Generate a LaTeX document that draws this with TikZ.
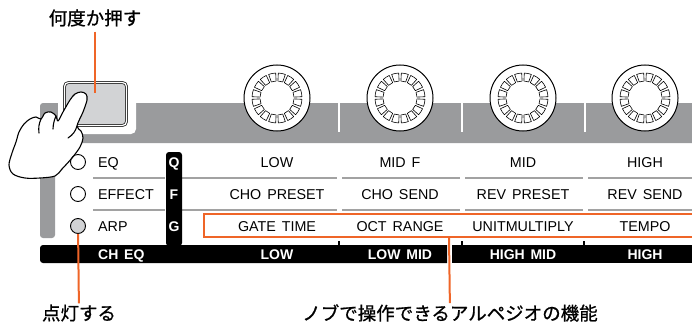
\documentclass[tikz,border=0pt]{standalone}
\usepackage{fontspec}
\setmainfont{Liberation Sans}[WordSpace=1.5]
\newfontfamily\jp{Noto Sans CJK JP}[FakeBold=0.8]
\definecolor{panel}{RGB}{154,155,157}
\definecolor{callout}{RGB}{239,101,40}
\definecolor{rowline}{RGB}{162,162,162}
\definecolor{btnface}{RGB}{210,211,213}

\begin{document}
\begin{tikzpicture}[x=1pt,y=-1pt,
  lbl/.style={font=\fontsize{14.3}{14.3}\selectfont, inner sep=0pt, text height=10pt, text depth=0pt},
  tag/.style={lbl, font=\fontsize{14}{14}\selectfont\bfseries, text=white},
  jlbl/.style={font=\jp\fontsize{18.5}{18.5}\selectfont, inner sep=1pt},
  pointer/.style={draw=callout, line width=2pt},
  led/.style={circle, draw, line width=0.9pt, minimum size=15pt, inner sep=0pt}]
\useasboundingbox (0,0) rectangle (692,326);
\clip (0,0) rectangle (692,326);

% gray panel with the notch round the button
\fill[panel, rounded corners=3] (55,238) -- (40,238) -- (40,103) -- (700,103) -- (700,143) -- (55,143) -- cycle;
\fill[white, rounded corners=5] (58,76) rectangle (136,134);
\foreach \x in {339,462,585}
  \draw[white, line width=1.5] (\x,103) -- (\x,132);

% knobs
\foreach \x in {277,400,523,645} {
  \filldraw[fill=white, line width=1] (\x,98) circle (33);
  \foreach \a in {0,22.5,...,337.5}
    \draw[line width=0.6, line join=round] (\x,98) ++(\a+3:17) -- ++(\a+3:8)
      arc[start angle=\a+3, end angle=\a+19.5, radius=25] -- ++(\a+19.5:-8)
      arc[start angle=\a+19.5, end angle=\a+3, radius=17] -- cycle;
}

% button and hand
\node[draw=black!85, fill=btnface, line width=0.8pt, double=white, double distance=1.2pt,
  rounded corners=4, minimum width=62pt, minimum height=43pt] (btn) at (95.5,104) {};
\coordinate (presspt) at (95,93);
\filldraw[fill=white, line width=1.1, line join=round] plot[smooth cycle, tension=0.55] coordinates {
  (81,92) (86,94) (87,100) (83,112) (77,126) (81,131) (83,138) (80,147) (72,158)
  (62,169) (55,176) (40,178) (25,178) (13,174) (9,165) (12,153) (16,142) (19,132)
  (24,124) (30,119) (36,117) (41,119) (45,113) (51,112) (56,116) (58,121) (63,112)
  (70,100) (75,94)};
\draw[line width=1.1, line cap=round] (41,119) to[bend right=15] (39,133)
  (56,116) to[bend right=10] (53,129) (77,126) to[bend left=20] (68,138);

% row separators
\foreach \y in {178,210}
  \foreach \a/\b in {93/165,182/337,342/460,465/583,588/700}
    \draw[rowline, line width=1.4] (\a,\y) -- (\b,\y);

% Q F G column and bottom bar
\fill[rounded corners=3] (166,246) -- (166,152) -- (182,152) -- (182,246) -- cycle;
\fill (447,263) -- (447,245) [rounded corners=3] -- (40,245) -- (40,263) [sharp corners] -- cycle;
\fill (452,245) rectangle (700,263);
\foreach \x in {339,462,584}
  \draw[line width=1.5] (\x,241) -- (\x,245);

% mode LEDs
\node[led] (eqled) at (78,162) {};
\node[led] (fxled) at (78,194) {};
\node[led, fill=btnface] (arpled) at (78,226) {};
\node[lbl, anchor=west] (eqtxt) at (98,162) {EQ};
\node[lbl, anchor=west] (fxtxt) at (98,194) {EFFECT};
\node[lbl, anchor=west] (arptxt) at (98,226) {ARP};
\node[tag] (qkey) at (174,162) {Q};
\node[tag] (fkey) at (174,194) {F};
\node[tag] (gkey) at (174,226) {G};
\node[tag, anchor=west] (cheq) at (98,254) {CH EQ};

% knob functions
\foreach \x/\t [count=\i] in {277/LOW,400/MID F,523/MID,645/HIGH}
  \node[lbl] (eq\i) at (\x,162) {\t};
\foreach \x/\t [count=\i] in {277/CHO PRESET,400/CHO SEND,523/REV PRESET,645/REV SEND}
  \node[lbl] (fx\i) at (\x,194) {\t};
\foreach \x/\t [count=\i] in {277/GATE TIME,400/OCT RANGE,523/UNITMULTIPLY,645/TEMPO}
  \node[lbl] (arp\i) at (\x,226) {\t};
\foreach \x/\t [count=\i] in {277/LOW,400/LOW MID,523/HIGH MID,645/HIGH}
  \node[tag] (band\i) at (\x,254) {\t};

% arpeggio frame
\draw[callout, line width=2] (700,214) -- (204,214) -- (204,237) -- (700,237);
\coordinate (arpframe) at (449,237);

% callouts
\node[jlbl] (press) at (95,18) {何度か押す};
\node[jlbl] (lit) at (79,313) {点灯する};
\node[jlbl] (arpfunc) at (450,313) {ノブで操作できるアルペジオの機能};
\draw[pointer, shorten <=4pt] (press) -- (presspt);
\draw[pointer] (arpled) -- (lit);
\draw[pointer] (arpframe) -- (arpfunc);
\end{tikzpicture}
\end{document}
